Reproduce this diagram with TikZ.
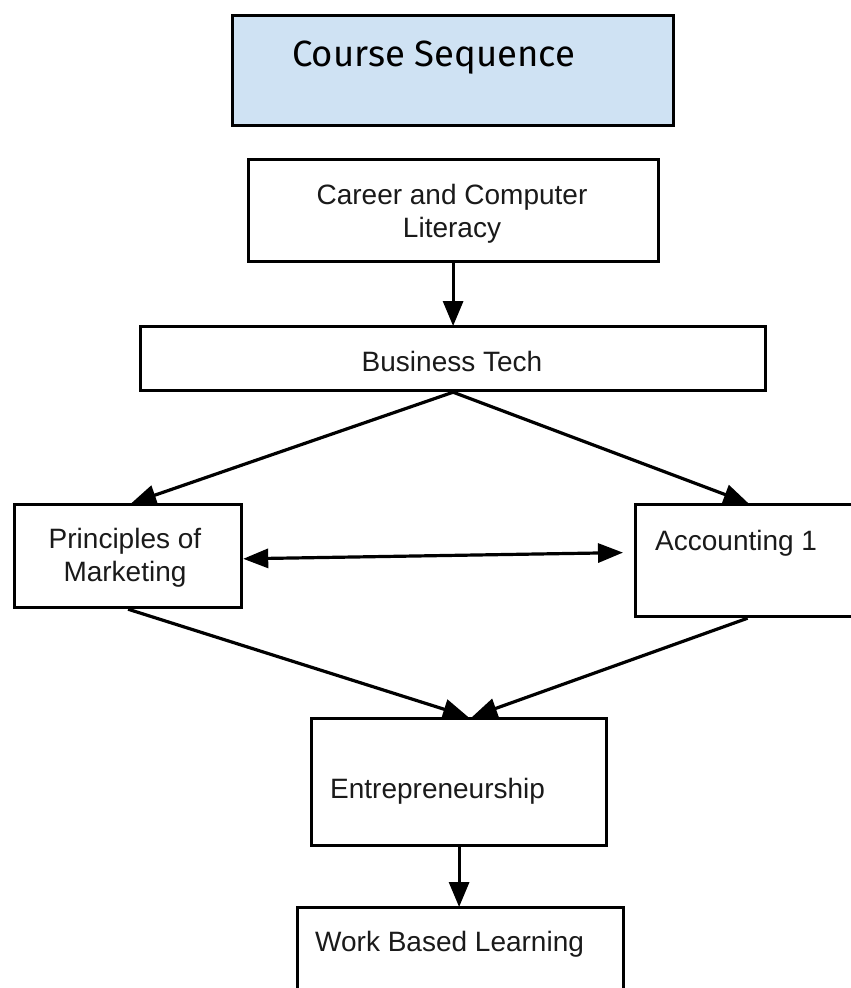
\documentclass[tikz,border=0pt]{standalone}
\usepackage{fontspec}
\setmainfont{Liberation Sans}
\newfontfamily\titlefont{Fira Sans}
\usetikzlibrary{arrows.meta,calc}
\definecolor{titleblue}{HTML}{CFE2F3}
\definecolor{txt}{HTML}{1A1A1A}
\tikzset{
  box/.style={draw=black, line width=3.2pt, rectangle, inner sep=0pt, anchor=north west, fill=white},
  lbl/.style={inner sep=0pt, text=txt, font=\fontsize{28}{34}\selectfont, align=center},
  arr/.style={line width=3.2pt, -{Triangle[length=25pt,width=20pt]}, shorten >=-1pt},
  darr/.style={line width=3.2pt, {Triangle[length=25pt,width=19pt]}-{Triangle[length=25pt,width=19pt]}}
}
\begin{document}
\begin{tikzpicture}[x=1pt,y=-1pt]
\useasboundingbox (0,0) rectangle (851,988);
% boxes
\node[box, fill=titleblue, minimum width=441pt, minimum height=110pt] (title) at (231,13.5) {};
\node[box, minimum width=410pt, minimum height=102pt] (career) at (246.5,157.5) {};
\node[box, minimum width=625pt, minimum height=64pt] (btech) at (139,325) {};
\node[box, minimum width=227pt, minimum height=103pt] (prin) at (13,503) {};
\node[box, minimum width=220pt, minimum height=112pt] (acc) at (634,503) {};
\node[box, minimum width=295pt, minimum height=127pt] (ent) at (310,716.5) {};
\node[box, minimum width=326pt, minimum height=120pt] (wbl) at (296,906) {};
% texts
\node[inner sep=0pt, anchor=base west, font=\titlefont\fontsize{36.5}{40}\selectfont] (titletext) at (292,66.5) {Course Sequence};
\node[lbl, anchor=base] (careertext1) at (452,204.3) {Career and Computer};
\node[lbl, anchor=base] (careertext2) at (452,237.7) {Literacy};
\node[lbl, anchor=base] (btechtext) at (452,371) {Business Tech};
\node[lbl, anchor=base] (printext1) at (125,548.3) {Principles of};
\node[lbl, anchor=base] (printext2) at (125,581.7) {Marketing};
\node[lbl, anchor=base west] (acctext) at (655,550.7) {Accounting 1};
\node[lbl, anchor=base west] (enttext) at (330,798.3) {Entrepreneurship};
\node[lbl, anchor=base west] (wbltext) at (315,951.7) {Work Based Learning};
% connectors
\draw[arr] (career.south) -- (btech.north);
\draw[arr] (btech.south) -- ([xshift=4pt]prin.north);
\draw[arr] (btech.south) -- ([xshift=2pt]acc.north);
\draw[darr] ([yshift=-2.7pt]prin.east) -- ([xshift=-11pt,yshift=8pt]acc.west);
\draw[arr] (prin.south) -- ([xshift=8pt]ent.north);
\draw[arr] ([xshift=2pt]acc.south) -- ([xshift=14pt]ent.north);
\draw[arr] (ent.south) -- (ent.south |- wbl.north);
\end{tikzpicture}
\end{document}
